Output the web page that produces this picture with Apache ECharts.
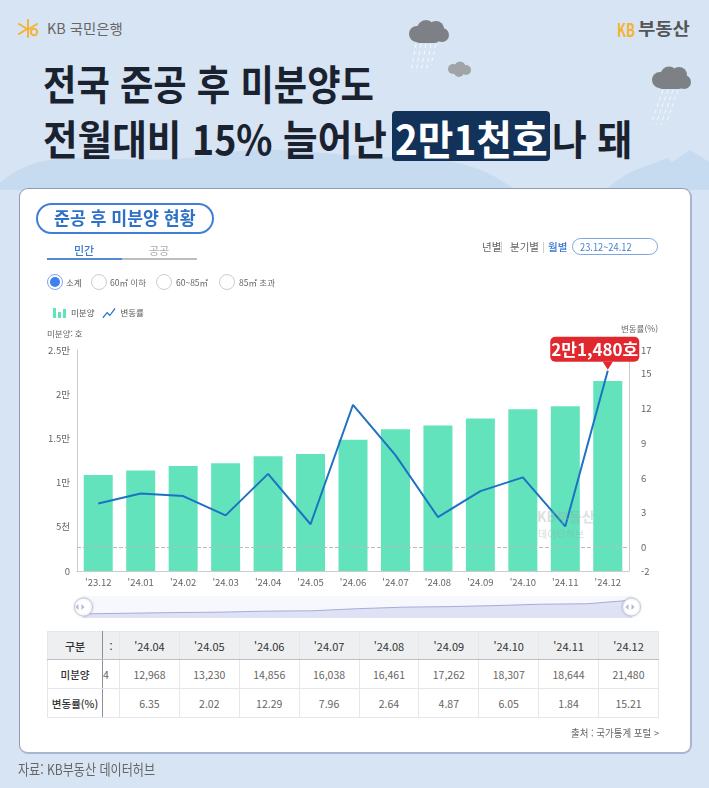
<!DOCTYPE html>
<html lang="ko">
<head>
<meta charset="utf-8">
<script src="https://cdn.jsdelivr.net/npm/echarts@6/dist/echarts.min.js"></script>
<style>
html,body{margin:0;padding:0;width:709px;height:788px;overflow:hidden;background:#d7e4f3;font-family:"Noto Sans CJK KR","Noto Sans",sans-serif}
#page{position:relative;width:709px;height:788px;overflow:hidden}
.t{position:absolute;white-space:nowrap;transform-origin:0 50%;line-height:1}
#bg{position:absolute;left:0;top:0}
#card{position:absolute;left:19px;top:188px;width:670px;height:563px;background:#fff;border:1px solid #8e9bb5;border-right:2px solid #a9b5d0;border-bottom:2px solid #a9b5d0;border-radius:9px;box-sizing:content-box}
#chart{position:absolute;left:0;top:0;width:709px;height:788px}
#pill{position:absolute;left:36px;top:203px;width:174px;height:27px;border:2px solid #3f7fd8;border-radius:16px;background:#fff}
#pill2{position:absolute;left:572px;top:238px;width:84px;height:15px;border:1.5px solid #7fa5e0;border-radius:9px}
.tab{position:absolute;top:258px;height:2px}
.radio{position:absolute;top:274px;width:14px;height:14px;border:1px solid #c9ccd2;border-radius:50%;background:#fff}
#tbl{position:absolute;left:47px;top:631px;border-collapse:collapse;table-layout:fixed;width:612px;font-size:10.5px;color:#666;background:#fff}
#tbl td,#tbl th{border:1px solid #e6e7ea;padding:0;text-align:center;overflow:hidden;white-space:nowrap;font-weight:400}
#tbl th{background:#eeeff0;color:#333;height:27px;font-size:11px;border-bottom:1px solid #bdbfc4}
#tbl td{height:28px}
#tbl .h{color:#333;font-weight:500;border-right:1px solid #8f9196}
</style>
</head>
<body>
<div id="page">
<svg id="bg" width="709" height="788" viewBox="0 0 709 788">
  <rect width="709" height="788" fill="#d7e4f3"/>
  <path d="M0 183 C20 165 45 158 75 158 C110 158 150 162 190 158 C225 152 250 149 280 150 C320 152 370 158 420 158 C460 160 490 170 515 190 L0 190 Z" fill="#c6daf0"/>
  <path d="M606 190 C625 172 640 168 655 163 L667 158 L672 162 L690 150 L709 162 L709 190 Z" fill="#c6daf0"/>
  <!-- KB star -->
  <g stroke="#f5b335" stroke-width="2" fill="none" stroke-linecap="round">
    <path d="M28 20 L28 37 M19 24 L27 29 L19 34 M37 24 L29 29"/>
    <circle cx="34" cy="32" r="3.2"/>
  </g>
  <!-- clouds -->
  <g fill="#7d8186"><circle cx="417" cy="34" r="8"/><circle cx="426" cy="29" r="9"/><circle cx="436" cy="29" r="8"/><circle cx="442" cy="35" r="7"/><rect x="414" y="33" width="26" height="10" rx="5"/></g>
  <g stroke="#fff" stroke-width="1" stroke-dasharray="4 3" opacity=".85"><path d="M416 44 L411 72 M421 44 L416 72 M426 44 L421 72 M431 44 L426 72 M436 44 L431 65"/></g>
  <g fill="#a0a3a8"><circle cx="453" cy="69" r="5"/><circle cx="460" cy="67" r="5.5"/><circle cx="466" cy="70" r="5"/><circle cx="459" cy="72" r="5"/></g>
  <g fill="#7d8186"><circle cx="660" cy="80" r="8"/><circle cx="669" cy="75" r="8.5"/><circle cx="679" cy="75" r="8"/><circle cx="684" cy="82" r="7"/><rect x="657" y="79" width="27" height="10" rx="5"/></g>
  <g stroke="#fff" stroke-width="1" stroke-dasharray="4 3" opacity=".8"><path d="M663 90 L651 124 M668 90 L656 124 M673 90 L661 124 M678 90 L666 124"/></g>
  <!-- calendar -->
  <g stroke="#5b8fdc" fill="none" stroke-width="1"><rect x="639" y="243" width="11" height="10" rx="1.5"/><path d="M639 246.5 H650"/></g>
  <!-- source icon -->
  <path d="M557 727 H564 L568 731 V739 H557 Z" fill="#1f67b5"/>
  <path d="M559 737 L564 732" stroke="#fff" stroke-width="1"/>
  <rect x="392" y="111" width="158" height="50" rx="4" fill="#12325a"/>
</svg>

<div class="t" data-w="76" style="left:47px;top:21px;font-size:14px;color:#666">KB 국민은행</div>
<div class="t" data-w="18" style="left:617px;top:19px;font-size:19px;font-weight:700;color:#f5b335">KB</div>
<div class="t" data-w="52" style="left:638px;top:19px;font-size:17px;font-weight:700;color:#555">부동산</div>
<div class="t" data-w="331" style="left:43px;top:62px;font-size:41px;font-weight:700;color:#1a2230">전국 준공 후 미분양도</div>
<div class="t" data-w="344" style="left:43px;top:117px;font-size:41px;font-weight:700;color:#1a2230">전월대비 15% 늘어난</div>
<div class="t" data-w="153" style="left:395px;top:117px;font-size:41px;font-weight:700;color:#fff">2만1천호</div>
<div class="t" data-w="80" style="left:552px;top:117px;font-size:41px;font-weight:700;color:#1a2230">나 돼</div>

<div id="card"></div>
<div id="chart"></div>

<div id="pill"></div>
<div class="t" data-w="142" style="left:54px;top:208px;font-size:18px;font-weight:700;color:#2f70c8">준공 후 미분양 현황</div>
<div class="t" style="left:74px;top:245px;font-size:11px;font-weight:500;color:#3a78d4">민간</div>
<div class="t" style="left:149px;top:245px;font-size:11px;color:#aaa">공공</div>
<div class="tab" style="left:47px;width:75px;background:#5587d6"></div>
<div class="tab" style="left:122px;width:75px;background:#bdbdbd"></div>

<div class="radio" style="left:47px;border-color:#7fa5e8"></div>
<div style="position:absolute;left:50px;top:277px;width:10px;height:10px;border-radius:50%;background:#3f7ff0"></div>
<div class="t" style="left:66px;top:278px;font-size:8.5px;color:#555">소계</div>
<div class="radio" style="left:91px"></div>
<div class="t" style="left:110px;top:278px;font-size:8.5px;color:#666">60㎡ 이하</div>
<div class="radio" style="left:156px"></div>
<div class="t" style="left:176px;top:278px;font-size:8.5px;color:#666">60~85㎡</div>
<div class="radio" style="left:219px"></div>
<div class="t" style="left:239px;top:278px;font-size:8.5px;color:#666">85㎡ 초과</div>

<div class="t" style="left:482px;top:242px;font-size:10.5px;color:#666">년별</div>
<div class="t" style="left:500px;top:241px;font-size:10px;color:#bbb">|</div>
<div class="t" style="left:510px;top:242px;font-size:10.5px;color:#666">분기별</div>
<div class="t" style="left:542px;top:241px;font-size:10px;color:#bbb">|</div>
<div class="t" style="left:548px;top:242px;font-size:10.5px;font-weight:500;color:#3a78d4">월별</div>
<div id="pill2"></div>
<div class="t" data-w="52" style="left:580px;top:242px;font-size:10px;color:#4a7fd0">23.12~24.12</div>

<table id="tbl"></table>

<div class="t" data-w="88" style="left:571px;top:728px;font-size:10px;color:#666">출처 : 국가통계 포털 &gt;</div>
<div class="t" data-w="137" style="left:18px;top:761px;font-size:15px;color:#666">자료: KB부동산 데이터허브</div>
</div>

<script>
const categories = ["'23.12","'24.01","'24.02","'24.03","'24.04","'24.05","'24.06","'24.07","'24.08","'24.09","'24.10","'24.11","'24.12"];
const unsold = [10857,11363,11867,12194,12968,13230,14856,16038,16461,17262,18307,18644,21480];
const changeRate = [3.8,4.66,4.44,2.78,6.35,2.02,12.29,7.96,2.64,4.87,6.05,1.84,15.21];
const leftTicks = {0:'0',5000:'5천',10000:'1만',15000:'1.5만',20000:'2만',25000:'2.5만'};
const rightTicks = [-2,0,3,6,9,12,15,17];
const calloutText = '2만1,480호';
const seriesNames = ['미분양','변동률'];
const tableRowNames = ['구분','미분양','변동률(%)'];

/* table */
const shown = categories.slice(4), fmt = v => v.toLocaleString('en-US');
let html = '<colgroup><col style="width:55px"><col style="width:17px">' + shown.map(()=>'<col>').join('') + '</colgroup>';
html += `<tr><th class="h" style="font-weight:500">${tableRowNames[0]}</th><th>:</th>` + shown.map(c=>`<th>${c}</th>`).join('') + '</tr>';
html += `<tr><td class="h">${tableRowNames[1]}</td><td style="text-align:left">4</td>` + unsold.slice(4).map(v=>`<td>${fmt(v)}</td>`).join('') + '</tr>';
html += `<tr><td class="h">${tableRowNames[2]}</td><td></td>` + changeRate.slice(4).map(v=>`<td>${v.toFixed(2)}</td>`).join('') + '</tr>';
document.getElementById('tbl').innerHTML = html;

/* squeeze headline texts to the condensed widths */
document.querySelectorAll('[data-w]').forEach(el=>{
  el.style.transform = 'scaleX(' + (+el.dataset.w / el.offsetWidth) + ')';
});

const FONT = '"Noto Sans CJK KR","Noto Sans",sans-serif';
const chart = echarts.init(document.getElementById('chart'));
chart.setOption({
  animation:false,
  textStyle:{fontFamily:FONT},
  legend:{
    left:48, top:303, itemWidth:13, itemHeight:12, itemGap:8,
    textStyle:{fontSize:8.5,color:'#555',fontFamily:FONT},
    data:[
      {name:seriesNames[0],icon:'path://M0 2H3V12H0ZM5 6H8V12H5ZM10 3H13V12H10Z'},
      {name:seriesNames[1],icon:'path://M0 10L5 4L8 7L13 0L14 1L8 9L5 6L1 11Z'}
    ]
  },
  grid:{left:77,right:80,top:350,bottom:217},
  xAxis:{
    type:'category',data:categories,
    axisLine:{show:true,lineStyle:{color:'#cccccc',width:1}},
    axisTick:{show:false},
    axisLabel:{fontSize:9.5,color:'#666',margin:7,fontFamily:FONT}
  },
  yAxis:[
    {type:'value',min:0,max:25000,interval:5000,
     name:'미분양: 호',nameLocation:'end',nameGap:12,
     nameTextStyle:{fontSize:8.5,color:'#666',align:'left',padding:[0,0,0,-30]},
     axisLine:{show:true,lineStyle:{color:'#cccccc'}},axisTick:{show:false},splitLine:{show:false},
     axisLabel:{fontSize:9.5,color:'#666',margin:7,formatter:v=>leftTicks[v]}},
    {type:'value',min:-2,max:17,interval:1,position:'right',
     name:'변동률(%)',nameLocation:'end',nameGap:17,
     nameTextStyle:{fontSize:8.5,color:'#666',align:'right',padding:[0,-29,0,0]},
     axisLine:{show:true,lineStyle:{color:'#cccccc'}},axisTick:{show:false},splitLine:{show:false},
     axisLabel:{fontSize:9.5,color:'#666',margin:12,customValues:rightTicks}}
  ],
  dataZoom:[{
    type:'slider',xAxisIndex:0,start:0,end:100,left:80,right:79,top:596,height:22,
    showDetail:false,brushSelect:false,zoomLock:false,
    backgroundColor:'#f7f8fd',borderColor:'transparent',fillerColor:'rgba(255,255,255,0)',
    moveHandleSize:5,moveHandleStyle:{color:'#dde0f3',opacity:1},
    handleIcon:'circle',handleSize:18,
    handleStyle:{color:'#fff',borderColor:'#c8cbd8',borderWidth:1,shadowBlur:3,shadowColor:'rgba(0,0,0,.15)'},
    dataBackground:{lineStyle:{color:'#a9aad8',width:1,opacity:1},areaStyle:{color:'#dfe1f5',opacity:1}},
    selectedDataBackground:{lineStyle:{color:'#a9aad8',width:1,opacity:1},areaStyle:{color:'#dfe1f5',opacity:1}}
  }],
  graphic:[
    {type:'text',left:537,top:510,z:50,silent:true,style:{text:'KB부동산',fontSize:14,fontWeight:700,fill:'rgba(150,165,165,.35)',fontFamily:FONT}},
    {type:'text',left:538,top:529,z:50,silent:true,style:{text:'데이터허브',fontSize:10,fill:'rgba(150,165,165,.4)',fontFamily:FONT}},
    {type:'polygon',z:1000,silent:true,shape:{points:[[78.5,604],[78.5,610],[75.5,607]]},style:{fill:'#b4b8d8'}},
    {type:'polygon',z:1000,silent:true,shape:{points:[[81.5,604],[81.5,610],[84.5,607]]},style:{fill:'#b4b8d8'}},
    {type:'polygon',z:1000,silent:true,shape:{points:[[628.5,604],[628.5,610],[625.5,607]]},style:{fill:'#b4b8d8'}},
    {type:'polygon',z:1000,silent:true,shape:{points:[[631.5,604],[631.5,610],[634.5,607]]},style:{fill:'#b4b8d8'}}
  ],
  series:[
    {name:seriesNames[0],type:'bar',yAxisIndex:0,data:unsold,barWidth:29,
     itemStyle:{color:'#62e3bb'},emphasis:{disabled:true}},
    {name:seriesNames[1],type:'line',yAxisIndex:1,data:changeRate,
     showSymbol:false,symbol:'none',
     lineStyle:{color:'#1c72c4',width:2},itemStyle:{color:'#1c72c4'},emphasis:{disabled:true},z:5,
     markLine:{silent:true,symbol:'none',label:{show:false},
       lineStyle:{color:'#b9bcbc',type:'dashed',width:1},data:[{yAxis:0}]},
     markPoint:{silent:true,z:20,data:[
       {coord:[categories[12],changeRate[12]],symbol:'triangle',symbolRotate:180,symbolSize:[10,8],symbolOffset:[0,-5],
        itemStyle:{color:'#e0282e'},label:{show:false}},
       {coord:[categories[12],changeRate[12]],symbol:'circle',symbolSize:1,itemStyle:{color:'rgba(0,0,0,0)'},
        label:{show:true,formatter:calloutText,position:'inside',offset:[-13,-21.5],
          width:89,height:25,lineHeight:25,align:'center',verticalAlign:'middle',
          backgroundColor:'#e0282e',borderRadius:5,color:'#fff',fontSize:17,fontWeight:700,fontFamily:FONT}}
     ]}}
  ]
});
</script>
</body>
</html>
